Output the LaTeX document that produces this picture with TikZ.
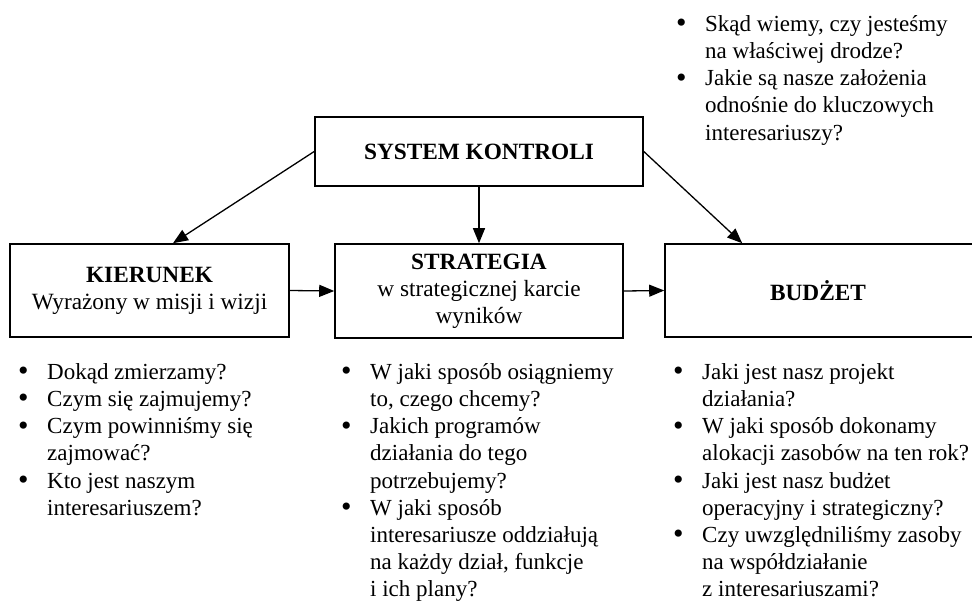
\documentclass[tikz,border=0pt]{standalone}
\usepackage{fontspec}
\setmainfont{Liberation Serif}
\usetikzlibrary{arrows.meta}
\newcommand\fs{\rule{0pt}{18pt}}
\newcommand\bul{\raisebox{-1.5pt}{\scalebox{1.3}{\textbullet}}}
\newcommand\bit[1]{\makebox[29pt][l]{\fs\bul}#1}
\newcommand\cnt[1]{\hspace*{29pt}\fs#1}
\begin{document}
\begin{tikzpicture}[x=1pt,y=-1pt,
  box/.style={draw, line width=1.6pt, rectangle, inner sep=0pt, align=center,
    font=\fontsize{23.3}{27}\selectfont},
  arr/.style={line width=1.3pt, -{Triangle[length=15pt,width=12pt]}},
  lst/.style={anchor=north west, inner sep=0pt, align=left,
    font=\fontsize{23}{27.2}\selectfont}]
\useasboundingbox (0,0) rectangle (972,603);
\clip (0,0) rectangle (972,603);
\fill[white] (0,0) rectangle (972,603);

\node[box, minimum width=328pt, minimum height=69pt] (sys) at (479,151.5) {\textbf{SYSTEM KONTROLI}};
\node[box, minimum width=279pt, minimum height=93pt] (kier) at (149.5,290.5)
  {\textbf{KIERUNEK}\\Wyrażony w misji i wizji};
\node[box, minimum width=288pt, minimum height=94pt] (strat) at (479,291)
  {\textbf{STRATEGIA}\\w strategicznej karcie\\wyników};
\node[box, minimum width=320pt, minimum height=93pt] (bud) at (825,290.5) {};
\node[font=\fontsize{23.3}{27}\selectfont, inner sep=0pt] (budtxt) at (818,291) {\textbf{BUDŻET}};

\draw[arr] (sys.west) -- ([xshift=23.5pt]kier.north);
\draw[arr] (sys.south) -- (strat.north);
\draw[arr] (sys.east) -- ([xshift=78pt]bud.north west);
\draw[arr] (kier.east) -- (strat.west);
\draw[arr] (strat.east) -- (bud.west);

\node[lst] (ltop) at (676,13) {\bit{Skąd wiemy, czy jesteśmy}\\\cnt{na właściwej drodze?}\\
  \bit{Jakie są nasze założenia}\\\cnt{odnośnie do kluczowych}\\\cnt{interesariuszy?}};
\node[lst] (lkier) at (18,361) {\bit{Dokąd zmierzamy?}\\\bit{Czym się zajmujemy?}\\
  \bit{Czym powinniśmy się}\\\cnt{zajmować?}\\\bit{Kto jest naszym}\\\cnt{interesariuszem?}};
\node[lst] (lstrat) at (341,361) {\bit{W jaki sposób osiągniemy}\\\cnt{to, czego chcemy?}\\
  \bit{Jakich programów}\\\cnt{działania do tego}\\\cnt{potrzebujemy?}\\
  \bit{W jaki sposób}\\\cnt{interesariusze oddziałują}\\\cnt{na każdy dział, funkcje}\\\cnt{i ich plany?}};
\node[lst] (lbud) at (673,361) {\bit{Jaki jest nasz projekt}\\\cnt{działania?}\\
  \bit{W jaki sposób dokonamy}\\\cnt{alokacji zasobów na ten rok?}\\
  \bit{Jaki jest nasz budżet}\\\cnt{operacyjny i strategiczny?}\\
  \bit{Czy uwzględniliśmy zasoby}\\\cnt{na współdziałanie}\\\cnt{z interesariuszami?}};
\end{tikzpicture}
\end{document}
